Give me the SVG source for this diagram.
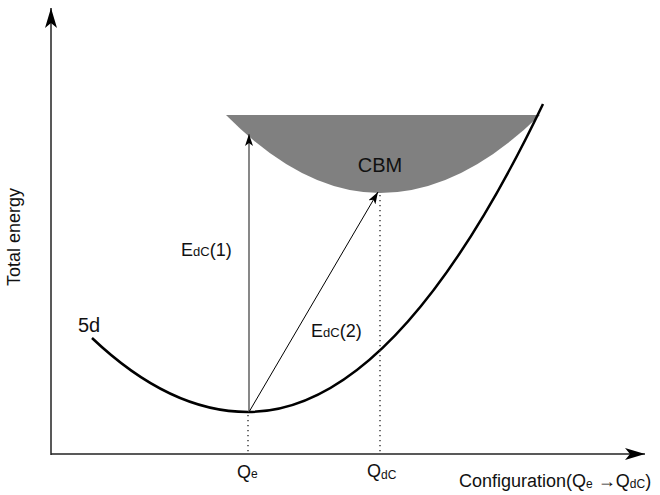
<svg xmlns="http://www.w3.org/2000/svg" width="660" height="495" viewBox="0 0 660 495">
<style>
text{font-family:"Liberation Sans",Arial,sans-serif;fill:#111}
.axis{stroke:#222;stroke-width:1.5;fill:none}
.dot{stroke:#222;stroke-width:1.3;stroke-dasharray:1.3 3.7;fill:none}
.curve{stroke:#000;stroke-width:2.5;fill:none}
</style>
<defs>
<marker id="big" viewBox="0 0 20 12" refX="20" refY="6" markerWidth="20" markerHeight="12" markerUnits="userSpaceOnUse" orient="auto">
<path d="M0,0 L20,6 L0,12 L5,6 Z" fill="#000"/>
</marker>
<marker id="small" viewBox="0 0 12 8" refX="12" refY="4" markerWidth="12" markerHeight="8" markerUnits="userSpaceOnUse" orient="auto">
<path d="M0,0 L12,4 L0,8 L3,4 Z" fill="#000"/>
</marker>
</defs>
<g id="cbm">
<path d="M226,115 L540,115 Q460,193 380,193 Q303,193 226,115 Z" fill="#808080"/>
<text x="380" y="172" font-size="20" text-anchor="middle">CBM</text>
</g>
<g id="curve-5d">
<path class="curve" d="M92,338 Q170,412 248,412 Q395.5,412 543,104"/>
<text x="78" y="332" font-size="20">5d</text>
</g>
<g id="axes">
<line class="axis" x1="51" y1="455" x2="51" y2="8" marker-end="url(#big)"/>
<line class="axis" x1="51" y1="454" x2="645" y2="454" marker-end="url(#big)"/>
<text transform="translate(20,237) rotate(-90)" font-size="18" text-anchor="middle">Total energy</text>
<text x="459" y="487" font-size="18">Configuration(Q<tspan font-size="12" dy="1">e</tspan><tspan dy="-1"> →Q</tspan><tspan font-size="12" dy="1">dC</tspan><tspan dy="-1">)</tspan></text>
</g>
<g id="connectors">
<line x1="249" y1="412" x2="249" y2="134" stroke="#555" stroke-width="1.4" marker-end="url(#small)"/>
<line x1="249" y1="412" x2="378" y2="192" stroke="#000" stroke-width="1" marker-end="url(#small)"/>
<line class="dot" x1="248" y1="415" x2="248" y2="452"/>
<line class="dot" x1="380" y1="195" x2="380" y2="452"/>
</g>
<g id="labels">
<text x="181" y="256" font-size="18">E<tspan font-size="13">dC</tspan>(1)</text>
<text x="311" y="337" font-size="18">E<tspan font-size="13">dC</tspan>(2)</text>
<text x="237" y="478" font-size="18">Q<tspan font-size="12">e</tspan></text>
<text x="367" y="477" font-size="18">Q<tspan font-size="12" dy="2">dC</tspan></text>
</g>
</svg>
